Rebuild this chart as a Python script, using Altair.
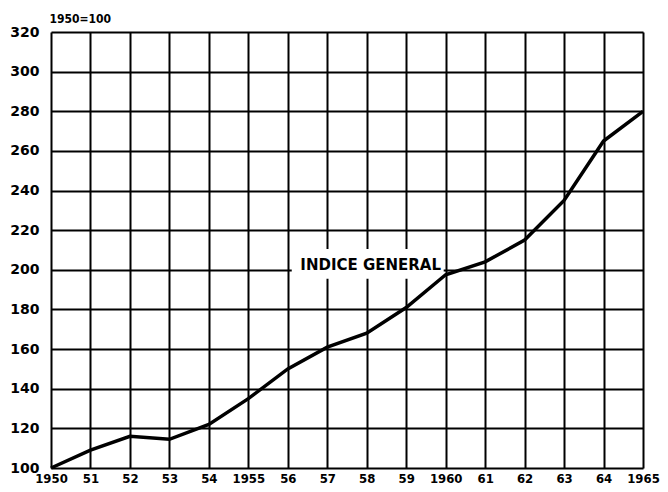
import altair as alt
import pandas as pd

years = list(range(1950, 1966))
values = [100, 109, 116, 114.5, 122, 135, 150, 161, 168, 181, 197.5, 204, 215, 235, 265, 280]
y_ticks = list(range(100, 321, 20))
label_text = ["INDICE GENERAL"]
label_year = [1958.1]
label_value = [202.5]
# white backing box behind the label (data units)
box_x = [1956.1]
box_x2 = [1959.95]
box_y = [195.5]
box_y2 = [210.5]

df = pd.DataFrame({"year": years, "value": values})
lab = pd.DataFrame({"year": label_year, "value": label_value, "text": label_text})
box = pd.DataFrame({"x": box_x, "x2": box_x2, "y": box_y, "y2": box_y2})

FONT = "DejaVu Sans"
AXFONT = "DejaVu Sans Condensed"

x_axis = alt.Axis(values=years, title=None, grid=True, ticks=False, domain=False,
                  labelExpr="(datum.value % 5 == 0) ? datum.value : substring(toString(datum.value), 2, 4)",
                  labelFont=AXFONT, labelFontSize=13, labelFontWeight="bold", labelColor="black",
                  labelPadding=4, gridColor="black", gridWidth=2, gridOpacity=1,
                  labelFlush=False, labelOverlap=False, labelBound=False)
y_axis = alt.Axis(values=y_ticks, title="1950=100", grid=True, ticks=False, domain=False,
                  titleAngle=0, titleAnchor="end", titleAlign="left", titleBaseline="bottom",
                  titleX=-2, titleY=-7, titleFont=AXFONT, titleFontSize=12, titleFontWeight="bold",
                  labelFont=FONT, labelFontSize=14, labelFontWeight="bold", labelColor="black",
                  labelPadding=12, gridColor="black", gridWidth=2, gridOpacity=1,
                  labelFlush=False, labelOverlap=False, labelBound=False)
x_scale = alt.Scale(domain=[1950, 1965], nice=False)
y_scale = alt.Scale(domain=[100, 320], nice=False)

line = alt.Chart(df).mark_line(color="black", strokeWidth=3.5).encode(
    x=alt.X("year:Q", scale=x_scale, axis=x_axis),
    y=alt.Y("value:Q", scale=y_scale, axis=y_axis))
bg = alt.Chart(box).mark_rect(color="white").encode(
    x=alt.X("x:Q", scale=x_scale, axis=x_axis), x2="x2:Q",
    y=alt.Y("y:Q", scale=y_scale, axis=y_axis), y2="y2:Q")
text = alt.Chart(lab).mark_text(font=FONT, fontSize=15, fontWeight="bold", color="black").encode(
    x=alt.X("year:Q", scale=x_scale, axis=x_axis),
    y=alt.Y("value:Q", scale=y_scale, axis=y_axis),
    text="text:N")

chart = (bg + line + text).properties(
    width=592, height=436,
    autosize=alt.AutoSizeParams(type="none"),
    padding={"left": 43, "top": 24, "right": 17, "bottom": 16},
).configure_view(stroke="black", strokeWidth=2.5).configure(background="white")

chart.save("out.html", embed_options={"renderer": "svg", "actions": False})
